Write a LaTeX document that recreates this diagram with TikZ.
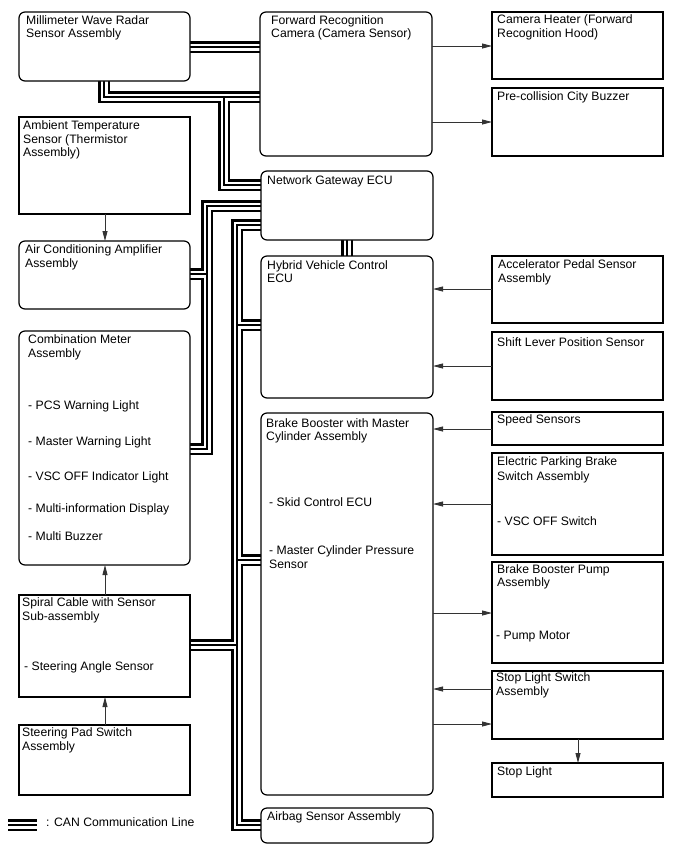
\documentclass[tikz,border=0pt]{standalone}
\usepackage{fontspec}
\setmainfont{Liberation Sans}
\usetikzlibrary{arrows.meta}
\pgfdeclarelayer{bg}
\pgfsetlayers{bg,main}
\newcommand\mkbox[6]{\node[#1, minimum width={#5-#3}, minimum height={#6-#4}] (#2) at (#3,#4) {};}
\begin{document}
\begin{tikzpicture}[x=1pt,y=-1pt,
  rbox/.style={draw, line width=1.2pt, rounded corners=6pt, fill=white, inner sep=0pt, outer sep=0pt, anchor=north west},
  sbox/.style={draw, line width=1.1pt, fill=white, inner sep=0pt, outer sep=0pt, anchor=north west},
  lbl/.style={anchor=base west, inner sep=0pt, font=\fontsize{12.2}{14}\selectfont},
  arr/.style={line width=0.9pt, draw=black!80, -{Triangle[length=10pt,width=5pt]}},
  canA/.style={line width=12pt, draw=black},
  canB/.style={line width=7pt, draw=white},
  canC/.style={line width=2.4pt, draw=black},
]
\useasboundingbox (0,0) rectangle (688,852);

% left column
\mkbox{rbox}{radar}{19}{12}{190}{81}
\mkbox{sbox}{amb}{19}{117}{190}{214}
\mkbox{rbox}{ac}{19}{241}{190}{309}
\mkbox{rbox}{comb}{19}{331}{190}{565}
\mkbox{sbox}{spiral}{19}{595}{190}{697}
\mkbox{sbox}{pad}{19}{725}{190}{795}
% middle column
\mkbox{rbox}{cam}{260}{12}{432}{156}
\mkbox{rbox}{gw}{261}{171}{433}{240}
\mkbox{rbox}{hv}{261}{256}{433}{398}
\mkbox{rbox}{brake}{261}{413}{433}{795}
\mkbox{rbox}{airbag}{261}{808}{433}{843}
% right column
\mkbox{sbox}{heater}{492}{12}{663}{79}
\mkbox{sbox}{buzzer}{492}{88}{663}{156}
\mkbox{sbox}{accel}{492}{256}{663}{323}
\mkbox{sbox}{shift}{492}{332}{663}{400}
\mkbox{sbox}{speed}{492}{412}{663}{445}
\mkbox{sbox}{epb}{492}{453}{663}{555}
\mkbox{sbox}{pump}{492}{562}{663}{663}
\mkbox{sbox}{sls}{492}{671}{663}{739}
\mkbox{sbox}{stopl}{492}{763}{663}{797}

% texts
\node[lbl] (t1) at (26,24) {Millimeter Wave Radar};
\node[lbl] (t2) at (26,37.7) {Sensor Assembly};
\node[lbl] (t3) at (271,24) {Forward Recognition};
\node[lbl] (t4) at (271,37.5) {Camera (Camera Sensor)};
\node[lbl] (t5) at (497,23.5) {Camera Heater (Forward};
\node[lbl] (t6) at (497,37) {Recognition Hood)};
\node[lbl] (t7) at (497,100.5) {Pre-collision City Buzzer};
\node[lbl] (t8) at (23,129.5) {Ambient Temperature};
\node[lbl] (t9) at (23,143) {Sensor (Thermistor};
\node[lbl] (t10) at (23,156.5) {Assembly)};
\node[lbl] (t11) at (267,184) {Network Gateway ECU};
\node[lbl] (t12) at (25,253.5) {Air Conditioning Amplifier};
\node[lbl] (t13) at (25,267) {Assembly};
\node[lbl] (t14) at (267,269) {Hybrid Vehicle Control};
\node[lbl] (t15) at (267,282.7) {ECU};
\node[lbl] (t16) at (498,268.5) {Accelerator Pedal Sensor};
\node[lbl] (t17) at (498,282) {Assembly};
\node[lbl] (t18) at (497,346) {Shift Lever Position Sensor};
\node[lbl] (t19) at (28,343.5) {Combination Meter};
\node[lbl] (t20) at (28,357) {Assembly};
\node[lbl] (t21) at (28,409.5) {- PCS Warning Light};
\node[lbl] (t22) at (28,445.5) {- Master Warning Light};
\node[lbl] (t23) at (28,480.5) {- VSC OFF Indicator Light};
\node[lbl] (t24) at (28,512.5) {- Multi-information Display};
\node[lbl] (t25) at (28,540.5) {- Multi Buzzer};
\node[lbl] (t26) at (266,427) {Brake Booster with Master};
\node[lbl] (t27) at (266,440.5) {Cylinder Assembly};
\node[lbl] (t28) at (269,506.5) {- Skid Control ECU};
\node[lbl] (t29) at (269,554.5) {- Master Cylinder Pressure};
\node[lbl] (t30) at (269,568) {Sensor};
\node[lbl] (t31) at (497,423) {Speed Sensors};
\node[lbl] (t32) at (497,465) {Electric Parking Brake};
\node[lbl] (t33) at (497,480) {Switch Assembly};
\node[lbl] (t34) at (497,525) {- VSC OFF Switch};
\node[lbl] (t35) at (497,573) {Brake Booster Pump};
\node[lbl] (t36) at (497,586.7) {Assembly};
\node[lbl] (t37) at (496,639) {- Pump Motor};
\node[lbl] (t38) at (496,681) {Stop Light Switch};
\node[lbl] (t39) at (496,695) {Assembly};
\node[lbl] (t40) at (497,775) {Stop Light};
\node[lbl] (t41) at (22,606.5) {Spiral Cable with Sensor};
\node[lbl] (t42) at (22,620.5) {Sub-assembly};
\node[lbl] (t43) at (24,670.5) {- Steering Angle Sensor};
\node[lbl] (t44) at (22,736.5) {Steering Pad Switch};
\node[lbl] (t45) at (22,750) {Assembly};
\node[lbl] (t46) at (267,820) {Airbag Sensor Assembly};
\node[lbl] (t47) at (46,826.5) {: CAN Communication Line};

% CAN junction coordinates
\coordinate (rc) at (225,47);
\coordinate (rb) at (104,97);
\coordinate (gj) at (224,97);
\coordinate (g1) at (224,185);
\coordinate (l1) at (207,206);
\coordinate (l2) at (207,449);
\coordinate (l3) at (207,274);
\coordinate (r1) at (237,225);
\coordinate (r2) at (237,825);
\coordinate (r3) at (237,325);
\coordinate (r4) at (237,560);
\coordinate (r5) at (237,645);
\coordinate (hg) at (347,248);
\coordinate (lg1) at (8,825);
\coordinate (lg2) at (37,825);

\newcommand\canlines[1]{%
  \draw[#1] (radar.east |- rc) -- (cam.west |- rc);
  \draw[#1] (radar.south -| rb) -- (rb) -- (cam.west |- rb);
  \draw[#1] (gj) -- (g1) -- (gw.west |- g1);
  \draw[#1] (gw.west |- l1) -- (l1) -- (l2) -- (comb.east |- l2);
  \draw[#1] (l3) -- (ac.east |- l3);
  \draw[#1] (gw.west |- r1) -- (r1) -- (r2) -- (airbag.west |- r2);
  \draw[#1] (r3) -- (hv.west |- r3);
  \draw[#1] (r4) -- (brake.west |- r4);
  \draw[#1] (r5) -- (spiral.east |- r5);
  \draw[#1] (gw.south -| hg) -- (hv.north -| hg);
  \draw[#1] (lg1) -- (lg2);
}
\begin{pgfonlayer}{bg}
\canlines{canA}
\canlines{canB}
\canlines{canC}
\end{pgfonlayer}

% arrow levels
\coordinate (ya) at (0,46);
\coordinate (yb) at (0,122);
\coordinate (yc) at (0,289);
\coordinate (yd) at (0,366);
\coordinate (ye) at (0,429);
\coordinate (yf) at (0,504);
\coordinate (yg) at (0,613);
\coordinate (yh) at (0,689);
\coordinate (yi) at (0,724);
\coordinate (xa) at (105,0);
\coordinate (xb) at (578,0);

\draw[arr] (cam.east |- ya) -- (heater.west |- ya);
\draw[arr] (cam.east |- yb) -- (buzzer.west |- yb);
\draw[arr] (accel.west |- yc) -- (hv.east |- yc);
\draw[arr] (shift.west |- yd) -- (hv.east |- yd);
\draw[arr] (speed.west |- ye) -- (brake.east |- ye);
\draw[arr] (epb.west |- yf) -- (brake.east |- yf);
\draw[arr] (brake.east |- yg) -- (pump.west |- yg);
\draw[arr] (sls.west |- yh) -- (brake.east |- yh);
\draw[arr] (brake.east |- yi) -- (sls.west |- yi);
\draw[arr] (sls.south -| xb) -- (stopl.north -| xb);
\draw[arr] (amb.south -| xa) -- (ac.north -| xa);
\draw[arr] (spiral.north -| xa) -- (comb.south -| xa);
\draw[arr] (pad.north -| xa) -- (spiral.south -| xa);
\end{tikzpicture}
\end{document}
